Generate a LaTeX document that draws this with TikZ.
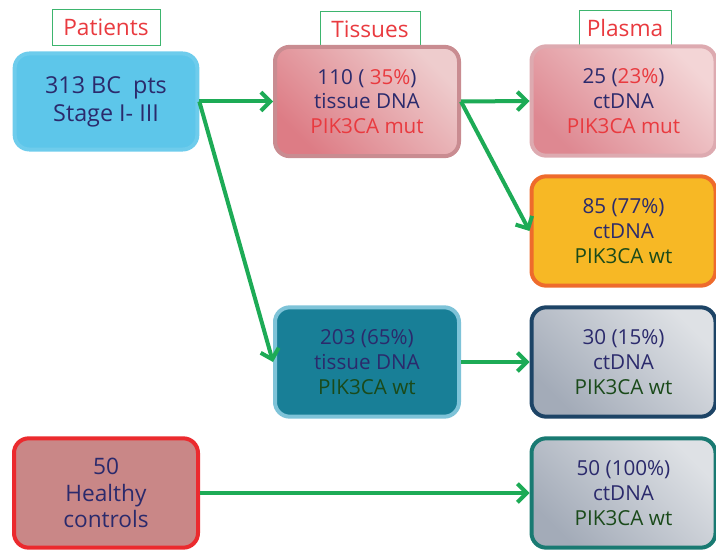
\documentclass[tikz,border=0pt]{standalone}
\usepackage{fontspec}
\setmainfont{Open Sans}
\usetikzlibrary{arrows.meta,positioning}
\definecolor{navytext}{HTML}{2B2A6C}
\definecolor{redtext}{HTML}{E93A3F}
\definecolor{greentext}{HTML}{1A4A1A}
\definecolor{headline}{HTML}{3DB56E}
\definecolor{flowgreen}{HTML}{1DAB56}
\definecolor{ptsfill}{HTML}{5DC6EA}
\definecolor{ptsline}{HTML}{6ECCEC}
\definecolor{ctrlfill}{HTML}{C98787}
\definecolor{ctrlline}{HTML}{EB2A2E}
\definecolor{tmutdark}{HTML}{DD7C85}
\definecolor{tmutlight}{HTML}{EECCCD}
\definecolor{tmutline}{HTML}{C98C91}
\definecolor{twtfill}{HTML}{187F97}
\definecolor{twtline}{HTML}{7EC3D8}
\definecolor{pmutdark}{HTML}{DE8891}
\definecolor{pmutlight}{HTML}{F3D5D6}
\definecolor{pmutline}{HTML}{DDAAB0}
\definecolor{pwtfill}{HTML}{F7B825}
\definecolor{pwtline}{HTML}{EE6B2C}
\definecolor{greydark}{HTML}{A3ABB8}
\definecolor{greylight}{HTML}{DEE1E5}
\definecolor{navyline}{HTML}{1D4466}
\definecolor{tealline}{HTML}{197A72}

\begin{document}
\begin{tikzpicture}[x=0.75pt,y=-0.75pt,
    box/.style={rounded corners=11pt, align=center, text=navytext,
        font=\fontsize{15.5}{18.5}\selectfont, line width=3pt,
        minimum width=138pt, minimum height=82pt, inner sep=0pt},
    head/.style={draw=headline, line width=0.7pt, text=redtext,
        font=\fontsize{17}{19}\selectfont, minimum height=27.5pt, inner sep=0pt},
    flow/.style={draw=flowgreen, line width=3pt,
        -{Straight Barb[length=7pt,width=14pt,line width=3pt]}}]
    \useasboundingbox (0,0) rectangle (716,549);

    % Column headings
    \node[head, minimum width=81pt] (hpat) at (106,27.5) {Patients};
    \node[head, minimum width=75pt] (htis) at (370,29.5) {Tissues};
    \node[head, minimum width=69pt] (hpla) at (625,28.5) {Plasma};

    % Patients
    \node[box, fill=ptsfill, draw=ptsline, minimum width=137pt,
        minimum height=72pt, font=\fontsize{17.5}{21}\selectfont] (pts) at (106,101.5)
        {313 BC\ \ pts\\Stage I- III};
    \node[box, fill=ctrlfill, draw=ctrlline, font=\fontsize{17}{20}\selectfont] (ctrl) at (106,493)
        {50\\Healthy\\controls};

    % Tissues
    \node[box, bottom color=tmutdark, top color=tmutlight, shading angle=-45,
        draw=tmutline] (tmut) at (367,101.5)
        {110 ( \textcolor{redtext}{35\%})\\tissue DNA\\\textcolor{redtext}{PIK3CA mut}};
    \node[box, fill=twtfill, draw=twtline] (twt) at (367,362)
        {203 (65\%)\\tissue DNA\\\textcolor{greentext}{PIK3CA wt}};

    % Plasma
    \node[box, bottom color=pmutdark, top color=pmutlight, shading angle=-45,
        draw=pmutline] (pmut) at (623.5,101)
        {25 (\textcolor{redtext}{23\%})\\ctDNA\\\textcolor{redtext}{PIK3CA mut}};
    \node[box, fill=pwtfill, draw=pwtline] (pwt) at (623.5,231)
        {85 (77\%)\\ctDNA\\\textcolor{greentext}{PIK3CA wt}};
    \node[box, bottom color=greydark, top color=greylight, shading angle=-45,
        draw=navyline] (pwt2) at (623.5,362)
        {30 (15\%)\\ctDNA\\\textcolor{greentext}{PIK3CA wt}};
    \node[box, bottom color=greydark, top color=greylight, shading angle=-45,
        draw=tealline] (pctrl) at (623.5,493)
        {50 (100\%)\\ctDNA\\\textcolor{greentext}{PIK3CA wt}};

    % Arrows
    \draw[flow] (pts.east) -- (tmut.west);
    \draw[flow] (pts.east) -- (twt.west);
    \draw[flow] (tmut.east) -- (pmut.west);
    \draw[flow] (tmut.east) -- (pwt.west);
    \draw[flow] (twt.east) -- (pwt2.west);
    \draw[flow] (ctrl.east) -- (pctrl.west);
\end{tikzpicture}
\end{document}
